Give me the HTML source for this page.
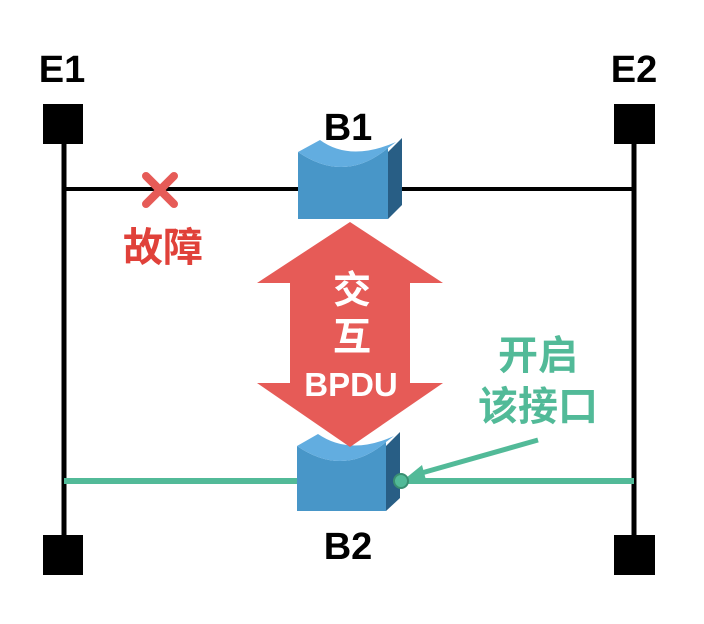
<!DOCTYPE html>
<html><head><meta charset="utf-8"><style>body{margin:0;background:#fff}svg{display:block}text{font-family:"Liberation Sans","Noto Sans CJK SC",sans-serif;font-weight:bold}</style></head><body>
<svg width="704" height="624" viewBox="0 0 704 624">
<line x1="64" y1="130" x2="64" y2="550" stroke="#000" stroke-width="5"/>
<line x1="634" y1="130" x2="634" y2="550" stroke="#000" stroke-width="5"/>
<rect x="43" y="104" width="40" height="40" fill="#000"/>
<rect x="614" y="104" width="41" height="40" fill="#000"/>
<rect x="43" y="535" width="40" height="40" fill="#000"/>
<rect x="614" y="535" width="41" height="40" fill="#000"/>
<line x1="64" y1="189" x2="634" y2="189" stroke="#000" stroke-width="4"/>
<line x1="64" y1="481" x2="300" y2="481" stroke="#52ba98" stroke-width="6"/>
<line x1="400" y1="481" x2="634" y2="481" stroke="#52ba98" stroke-width="6"/>
<text x="62" y="82" font-size="38" text-anchor="middle">E1</text>
<text x="634" y="82" font-size="38" text-anchor="middle">E2</text>
<text x="348" y="140" font-size="38" text-anchor="middle">B1</text>
<text x="348" y="559" font-size="38" text-anchor="middle">B2</text>
<!-- B1 -->
<path d="M388,152 L402,138 L402,205 L388,219 Z" fill="#285e85"/>
<path d="M298,152 Q345,184 388,148 L388,219 L298,219 Z" fill="#4896c8"/>
<path d="M298,152 Q345,184 388,148 L396,142 Q350,162 320,140 Z" fill="#62ade0"/>
<!-- B2 -->
<path d="M386,446 L400,432 L400,498 L386,511 Z" fill="#285e85"/>
<path d="M297,446 Q344,478 386,442 L386,511 L297,511 Z" fill="#4896c8"/>
<path d="M297,446 Q344,478 386,442 L394,436 Q350,456 318,434 Z" fill="#62ade0"/>
<!-- arrow -->
<path d="M350,222 L443,283 L410,283 L410,383 L443,383 L350,447 L257,383 L290,383 L290,283 L257,283 Z" fill="#e65b57"/>
<text x="352" y="303" font-size="38" fill="#fff" text-anchor="middle">交</text>
<text x="352" y="350" font-size="38" fill="#fff" text-anchor="middle">互</text>
<text x="351" y="396" font-size="33" fill="#fff" text-anchor="middle">BPDU</text>
<!-- fault -->
<path d="M146,176 L174,204 M174,176 L146,204" stroke="#e65b57" stroke-width="8" stroke-linecap="round"/>
<text x="163" y="261" font-size="40" fill="#e0413a" text-anchor="middle">故障</text>
<text x="538" y="369" font-size="40" fill="#52ba98" text-anchor="middle">开启</text>
<text x="538" y="420" font-size="40" fill="#52ba98" text-anchor="middle">该接口</text>
<line x1="538" y1="440" x2="418" y2="474" stroke="#52ba98" stroke-width="5"/>
<path d="M406,478 L422,465 L426,480 Z" fill="#52ba98"/>
<circle cx="401" cy="481" r="7" fill="#52ba98" stroke="#3a8f72" stroke-width="2"/>
</svg>
</body></html>
